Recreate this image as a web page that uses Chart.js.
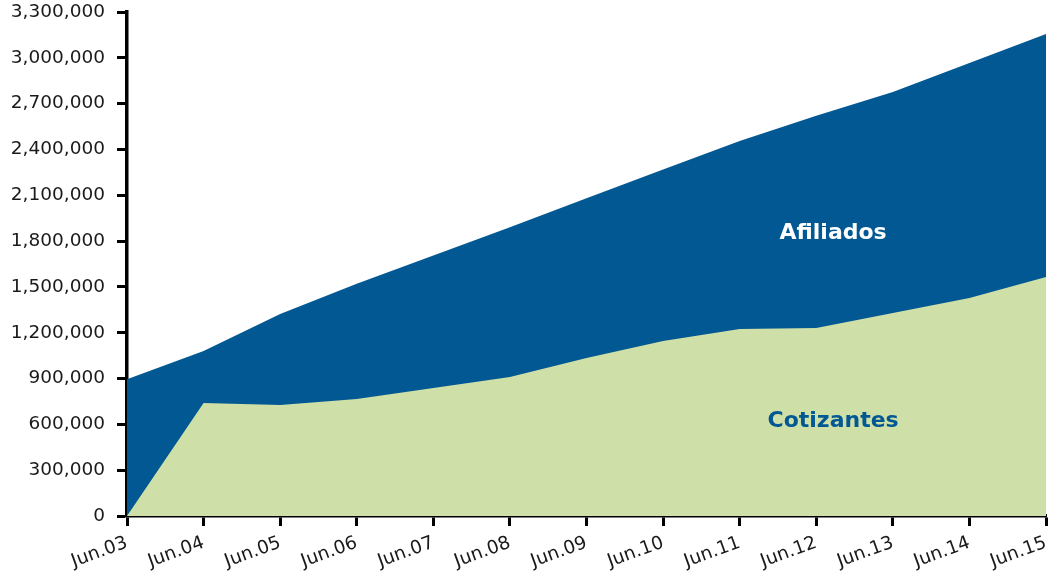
<!DOCTYPE html>
<html>
<head>
<meta charset="utf-8">
<script src="https://cdn.jsdelivr.net/npm/chart.js@4/dist/chart.umd.min.js"></script>
<style>
    html, body { margin: 0; padding: 0; background: #fff; }
    #wrap { width: 1056px; height: 573px; position: relative; }
</style>
</head>
<body>
<div id="wrap"><canvas id="chart"></canvas></div>
<script>
// --- Data ---
const labels = ['Jun.03', 'Jun.04', 'Jun.05', 'Jun.06', 'Jun.07', 'Jun.08', 'Jun.09',
                'Jun.10', 'Jun.11', 'Jun.12', 'Jun.13', 'Jun.14', 'Jun.15'];
const afiliados = [895000, 1080000, 1322000, 1520000, 1705000, 1890000, 2080000,
                   2268000, 2455000, 2620000, 2776000, 2966000, 3156000];
const cotizantes = [0, 740000, 727000, 766000, 838000, 910000, 1035000,
                    1146000, 1224000, 1231000, 1329000, 1427000, 1565000];
const yTicks = [0, 300000, 600000, 900000, 1200000, 1500000, 1800000,
                2100000, 2400000, 2700000, 3000000, 3300000];

const BLUE = '#015893';
const GREEN = '#cfdfa8';
const FONT = '"DejaVu Sans", sans-serif';

// series names written inside the areas
const areaLabels = [
    { text: 'Afiliados', xIndex: 9.22, yValue: 1853000, color: '#ffffff' },
    { text: 'Cotizantes', xIndex: 9.22, yValue: 622000, color: BLUE }
];

const areaLabelPlugin = {
    id: 'areaLabels',
    afterDatasetsDraw(chart) {
        const { ctx, scales: { x, y } } = chart;
        ctx.save();
        ctx.font = 'bold 22px ' + FONT;
        ctx.textAlign = 'center';
        ctx.textBaseline = 'middle';
        areaLabels.forEach(l => {
            ctx.fillStyle = l.color;
            ctx.fillText(l.text, x.getPixelForValue(l.xIndex), y.getPixelForValue(l.yValue));
        });
        ctx.restore();
    }
};

const axisGrid = { drawOnChartArea: false, drawTicks: true, tickLength: 10, tickWidth: 3, tickColor: '#000' };

new Chart(document.getElementById('chart'), {
    type: 'line',
    data: {
        labels: labels,
        datasets: [
            { label: 'Cotizantes', data: cotizantes, backgroundColor: GREEN, borderWidth: 0,
              pointRadius: 0, fill: 'origin', tension: 0 },
            { label: 'Afiliados', data: afiliados, backgroundColor: BLUE, borderWidth: 0,
              pointRadius: 0, fill: 'origin', tension: 0 }
        ]
    },
    options: {
        responsive: true,
        maintainAspectRatio: false,
        animation: false,
        layout: { padding: { top: 12, right: 10, left: 0, bottom: 0 } },
        plugins: { legend: { display: false }, tooltip: { enabled: false } },
        scales: {
            x: {
                offset: false,
                border: { color: '#000', width: 3.5 },
                grid: axisGrid,
                ticks: { color: '#1a1a1a', font: { family: FONT, size: 18.5 }, minRotation: 20, maxRotation: 20, padding: 6 },
                afterFit(scale) { scale.height = 57; scale.paddingLeft = 0; scale.paddingRight = 0; }
            },
            y: {
                min: 0, max: 3300000,
                border: { color: '#000', width: 3.5 },
                grid: axisGrid,
                afterBuildTicks(scale) { scale.ticks = yTicks.map(v => ({ value: v })); },
                ticks: { color: '#1a1a1a', font: { family: FONT, size: 18.5 }, padding: 12,
                         callback: v => v.toLocaleString('en-US') },
                afterFit(scale) { scale.width = 127; scale.paddingTop = 0; scale.paddingBottom = 0; }
            }
        }
    },
    plugins: [areaLabelPlugin]
});
</script>
</body>
</html>
